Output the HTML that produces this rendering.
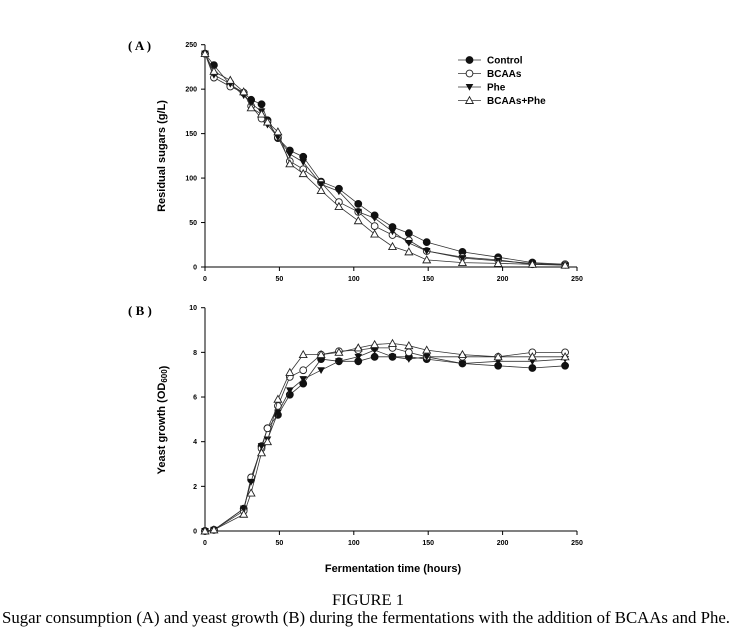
<!DOCTYPE html>
<html><head><meta charset="utf-8"><style>
html,body{margin:0;padding:0;background:#fff}
svg{display:block}
.t{font-family:"Liberation Sans",sans-serif}
.s{font-family:"Liberation Serif",serif}
</style></head><body>
<svg id="fig" width="736" height="639" viewBox="0 0 736 639">
<text class="s" x="128" y="50" font-size="13" font-weight="bold">( A )</text>
<text class="s" x="128" y="315" font-size="13" font-weight="bold">( B )</text>
<text class="t" x="0" y="0" font-size="11" font-weight="bold" transform="translate(165,156) rotate(-90)" text-anchor="middle">Residual sugars (g/L)</text>
<text class="t" x="0" y="0" font-size="11" font-weight="bold" transform="translate(165,420) rotate(-90)" text-anchor="middle">Yeast growth (OD<tspan font-size="8" dy="2">600</tspan>)</text>
<text class="t" x="393" y="572" font-size="11" font-weight="bold" text-anchor="middle">Fermentation time (hours)</text>
<text class="s" x="368" y="605" font-size="16" text-anchor="middle" textLength="72" lengthAdjust="spacingAndGlyphs">FIGURE 1</text>
<text class="s" x="2" y="623" font-size="16.5" textLength="728" lengthAdjust="spacingAndGlyphs">Sugar consumption (A) and yeast growth (B) during the fermentations with the addition of BCAAs and Phe.</text>
<g id="pa"></g><g id="pb"></g><g id="legend"></g>
</svg>
<script>
const timesA=[0,6,17,26,31,38,42,49,57,66,78,90,103,114,126,137,149,173,197,220,242];
const sugarControl=[240,227,205,196,188,183,165,145,131,124,96,88,71,58,45,38,28,17,11,5,3];
const sugarBCAAs=[240,213,203,196,181,167,163,146,119,110,95,73,62,46,36,30,18,11,8,3,3];
const sugarPhe=[240,216,206,193,184,175,160,146,127,118,93,85,62,55,40,27,18,10,7,4,2];
const sugarBP=[240,220,210,197,179,172,163,152,116,105,86,68,52,37,23,17,8,5,4,3,2];
const timesB=[0,6,26,31,38,42,49,57,66,78,90,103,114,126,137,149,173,197,220,242];
const odControl=[0,0.05,1.0,2.3,3.8,4.6,5.2,6.1,6.6,7.7,7.6,7.6,7.8,7.8,7.8,7.7,7.5,7.4,7.3,7.4];
const odBCAAs=[0,0.05,0.9,2.4,3.7,4.6,5.6,6.9,7.2,7.9,8.05,8.1,8.2,8.2,8.0,7.8,7.8,7.8,8.0,8.0];
const odPhe=[0,0.05,1.0,2.2,3.8,4.1,5.3,6.3,6.8,7.2,7.6,7.8,8.1,7.8,7.7,7.8,7.5,7.6,7.6,7.7];
const odBP=[0,0.05,0.75,1.7,3.5,4.0,5.9,7.1,7.9,7.9,8.0,8.2,8.35,8.4,8.3,8.1,7.9,7.8,7.8,7.8];
const xTicks=[0,50,100,150,200,250];
const yTicksA=[0,50,100,150,200,250];
const yTicksB=[0,2,4,6,8,10];
const seriesNames=["Control","BCAAs","Phe","BCAAs+Phe"];
const NS="http://www.w3.org/2000/svg";
const X0=205,X1=577;
function sx(v){return X0+(v/250)*(X1-X0);}
function mk(tag,attrs,parent){const e=document.createElementNS(NS,tag);for(const k in attrs)e.setAttribute(k,attrs[k]);parent.appendChild(e);return e;}
function marker(g,type,x,y){
  let e;
  if(type==0){e=mk('circle',{cx:x,cy:y,r:3.4,fill:'#111',stroke:'#111'},g);}
  else if(type==1){e=mk('circle',{cx:x,cy:y,r:3.4,fill:'#fff',stroke:'#222','stroke-width':0.9},g);}
  else if(type==2){e=mk('polygon',{points:`${x-3.8},${y-3} ${x+3.8},${y-3} ${x},${y+3.8}`,fill:'#111'},g);}
  else {e=mk('polygon',{points:`${x-3.8},${y+3} ${x+3.8},${y+3} ${x},${y-3.8}`,fill:'#fff',stroke:'#222','stroke-width':0.9},g);}
  
  
}
function panel(gid,yTop,yBot,ymax,yTicks,times,series,name){
  const g=document.getElementById(gid);
  const sy=v=>yBot-(v/ymax)*(yBot-yTop);
  const ax=mk('path',{d:`M${X0},${yTop}V${yBot}H${X1}`,stroke:'#000','stroke-width':1,fill:'none'},g);
  
  
  xTicks.forEach(t=>{
    mk('line',{x1:sx(t),x2:sx(t),y1:yBot,y2:yBot+4,stroke:'#000'},g);
    const tx=mk('text',{x:sx(t),y:yBot+14,'font-size':7,'font-weight':'bold','text-anchor':'middle',class:'t'},g);
    tx.textContent=t;
    
    
  });
  yTicks.forEach(t=>{
    mk('line',{x1:X0-4,x2:X0,y1:sy(t),y2:sy(t),stroke:'#000'},g);
    const tx=mk('text',{x:X0-8,y:sy(t)+2.5,'font-size':7,'font-weight':'bold','text-anchor':'end',class:'t'},g);
    tx.textContent=t;
    
    
  });
  series.forEach((vals,i)=>{
    const sg=mk('g',{},g);
    
    
    const d=vals.map((v,j)=>(j?'L':'M')+sx(times[j]).toFixed(1)+','+sy(v).toFixed(1)).join('');
    mk('path',{d:d,fill:'none',stroke:'#333','stroke-width':0.8},sg);
    vals.forEach((v,j)=>marker(sg,i,sx(times[j]),sy(v)));
  });
}
panel('pa',44.7,267,250,yTicksA,timesA,[sugarControl,sugarBCAAs,sugarPhe,sugarBP],'sugar');
panel('pb',307.7,531,10,yTicksB,timesB,[odControl,odBCAAs,odPhe,odBP],'growth');
const lg=document.getElementById('legend');


seriesNames.forEach((n,i)=>{
  const y=60+i*13.5;
  const eg=mk('g',{},lg);
  
  
  mk('line',{x1:458,x2:481,y1:y,y2:y,stroke:'#333','stroke-width':0.8},eg);
  marker(eg,i,469.5,y);
  const t=mk('text',{x:487,y:y+3.5,'font-size':10,'font-weight':'bold',class:'t'},eg);
  t.textContent=n;
});
</script>
</body></html>
